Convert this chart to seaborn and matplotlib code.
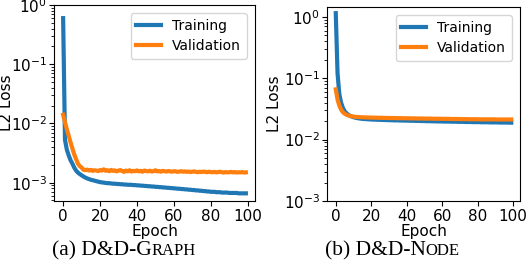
import pandas as pd
import seaborn as sns
import matplotlib.pyplot as plt

# Loss curves (epochs 0..99)
EPOCHS = list(range(100))

GRAPH_TRAIN = [
    0.6,
    0.0053, 0.0036, 0.0029, 0.0024, 0.0021, 0.0018, 0.0016, 0.00148, 0.00140, 0.00133,
    0.00127, 0.00122, 0.00118, 0.00115, 0.00112, 0.00110, 0.00108, 0.00106, 0.00104, 0.00102,
    0.00101, 0.00100, 0.00099, 0.00098, 0.00098, 0.00097, 0.00096, 0.00096, 0.00095, 0.00095,
    0.00094, 0.00094, 0.00093, 0.00093, 0.00092, 0.00092, 0.00092, 0.00091, 0.00091, 0.00090,
    0.00090, 0.00089, 0.00089, 0.00088, 0.00088, 0.00087, 0.00087, 0.00086, 0.00086, 0.00085,
    0.00085, 0.00084, 0.00084, 0.00083, 0.00083, 0.00082, 0.00082, 0.00081, 0.00081, 0.00080,
    0.00080, 0.00079, 0.00079, 0.00078, 0.00078, 0.00077, 0.00077, 0.00076, 0.00076, 0.00075,
    0.00075, 0.00074, 0.00074, 0.00073, 0.00073, 0.00072, 0.00072, 0.00071, 0.00071, 0.00070,
    0.00070, 0.00070, 0.00069, 0.00069, 0.00069, 0.00068, 0.00068, 0.00068, 0.00068, 0.00067,
    0.00067, 0.00067, 0.00067, 0.00067, 0.00066, 0.00066, 0.00066, 0.00066, 0.00066,
]
GRAPH_VAL = [
    0.0140,
    0.0105, 0.0080, 0.0062, 0.0048, 0.0038, 0.0030, 0.0025, 0.0021, 0.0019, 0.0018,
    0.00165, 0.00163, 0.00166, 0.00160, 0.00164, 0.00158, 0.00162, 0.00160, 0.00157, 0.00163,
    0.00160, 0.00168, 0.00159, 0.00162, 0.00156, 0.00164, 0.00158, 0.00161, 0.00155, 0.00160,
    0.00163, 0.00157, 0.00152, 0.00160, 0.00155, 0.00162, 0.00154, 0.00158, 0.00156, 0.00161,
    0.00155, 0.00158, 0.00153, 0.00160, 0.00157, 0.00155, 0.00159, 0.00154, 0.00156, 0.00162,
    0.00155, 0.00157, 0.00153, 0.00158, 0.00156, 0.00154, 0.00157, 0.00155, 0.00153, 0.00156,
    0.00155, 0.00152, 0.00154, 0.00156, 0.00153, 0.00155, 0.00152, 0.00154, 0.00151, 0.00153,
    0.00155, 0.00152, 0.00150, 0.00153, 0.00151, 0.00154, 0.00152, 0.00150, 0.00153, 0.00151,
    0.00150, 0.00152, 0.00149, 0.00151, 0.00153, 0.00150, 0.00148, 0.00151, 0.00149, 0.00150,
    0.00152, 0.00149, 0.00151, 0.00148, 0.00150, 0.00149, 0.00151, 0.00148, 0.00149,
]
NODE_TRAIN = [
    1.15,
    0.12, 0.055, 0.040, 0.033, 0.029, 0.027, 0.0255, 0.0245, 0.0238, 0.0232,
    0.0228, 0.0225, 0.0222, 0.0220, 0.0218, 0.0217, 0.0216, 0.0215, 0.0214, 0.0213,
    0.0212, 0.0212, 0.0211, 0.0211, 0.0210, 0.0210, 0.0209, 0.0209, 0.0208, 0.0208,
    0.0207, 0.0207, 0.0206, 0.0206, 0.0206, 0.0205, 0.0205, 0.0205, 0.0204, 0.0204,
    0.0204, 0.0203, 0.0203, 0.0203, 0.0202, 0.0202, 0.0202, 0.0201, 0.0201, 0.0201,
    0.0200, 0.0200, 0.0200, 0.0199, 0.0199, 0.0199, 0.0198, 0.0198, 0.0198, 0.0198,
    0.0197, 0.0197, 0.0197, 0.0197, 0.0196, 0.0196, 0.0196, 0.0196, 0.0195, 0.0195,
    0.0195, 0.0195, 0.0194, 0.0194, 0.0194, 0.0194, 0.0193, 0.0193, 0.0193, 0.0193,
    0.0193, 0.0192, 0.0192, 0.0192, 0.0192, 0.0192, 0.0191, 0.0191, 0.0191, 0.0191,
    0.0191, 0.0190, 0.0190, 0.0190, 0.0190, 0.0190, 0.0190, 0.0189, 0.0189,
]
NODE_VAL = [
    0.066,
    0.045, 0.036, 0.031, 0.028, 0.0265, 0.0255, 0.0248, 0.0243, 0.0240, 0.0237,
    0.0235, 0.0234, 0.0233, 0.0232, 0.0231, 0.0231, 0.0230, 0.0230, 0.0229, 0.0229,
    0.0228, 0.0228, 0.0228, 0.0227, 0.0227, 0.0227, 0.0226, 0.0226, 0.0226, 0.0225,
    0.0225, 0.0225, 0.0225, 0.0224, 0.0224, 0.0224, 0.0224, 0.0223, 0.0223, 0.0223,
    0.0223, 0.0222, 0.0222, 0.0222, 0.0222, 0.0221, 0.0221, 0.0221, 0.0221, 0.0220,
    0.0220, 0.0220, 0.0220, 0.0220, 0.0219, 0.0219, 0.0219, 0.0219, 0.0219, 0.0218,
    0.0218, 0.0218, 0.0218, 0.0218, 0.0217, 0.0217, 0.0217, 0.0217, 0.0217, 0.0216,
    0.0216, 0.0216, 0.0216, 0.0216, 0.0215, 0.0215, 0.0215, 0.0215, 0.0215, 0.0215,
    0.0214, 0.0214, 0.0214, 0.0214, 0.0214, 0.0214, 0.0214, 0.0214, 0.0214, 0.0214,
    0.0213, 0.0213, 0.0213, 0.0213, 0.0213, 0.0213, 0.0213, 0.0213, 0.0213,
]

# caption pieces: (text, size) -- small caps faked with smaller capitals
CAPTION_A = [("(a) D&D-G", 15.5), ("RAPH", 12)]
CAPTION_B = [("(b) D&D-N", 15.5), ("ODE", 12)]

plt.rcParams['font.size'] = 11

fig = plt.figure(figsize=(5.3, 2.66), dpi=100)
ax1 = fig.add_axes([54 / 530, 1 - 201 / 266, 201 / 530, 196 / 266])
ax2 = fig.add_axes([327 / 530, 1 - 201 / 266, 193 / 530, 194 / 266])


def draw_panel(ax, train, val, ylim, label_x):
    df = pd.DataFrame({
        'Epoch': EPOCHS * 2,
        'loss': train + val,
        'split': ['Training'] * len(train) + ['Validation'] * len(val),
    })
    sns.lineplot(data=df, x='Epoch', y='loss', hue='split', ax=ax,
                 palette=['#1f77b4', '#ff7f0e'], linewidth=3)
    ax.set_yscale('log')
    ax.set_ylim(*ylim)
    ax.set_xticks([0, 20, 40, 60, 80, 100])
    ax.tick_params(labelsize=11)
    ax.tick_params(axis='y', pad=1.5)
    ax.tick_params(axis='x', pad=2)
    ax.set_xlabel('Epoch', labelpad=0, fontsize=11)
    ax.set_ylabel('L2 Loss', fontsize=11)
    ax.yaxis.set_label_coords(label_x, 0.5)
    leg = ax.legend(loc='upper right', title=None, fontsize=10,
                    borderaxespad=0.6, handlelength=1.8, labelspacing=0.45)
    for line in leg.get_lines():
        line.set_linewidth(3)


draw_panel(ax1, GRAPH_TRAIN, GRAPH_VAL, (4.9e-4, 1.0), -0.2)
draw_panel(ax2, NODE_TRAIN, NODE_VAL, (1e-3, 1.45), -0.235)

fig.canvas.draw()
renderer = fig.canvas.get_renderer()


def caption(pieces, xc, y_base):
    # small-caps caption: pieces on one baseline, measured then centred
    texts = [fig.text(0, 1 - y_base / 266, s, fontsize=size,
                      family='Liberation Serif', ha='left', va='baseline')
             for s, size in pieces]
    widths = [t.get_window_extent(renderer).width for t in texts]
    x = xc - sum(widths) / 2
    for t, w in zip(texts, widths):
        t.set_x(x / 530)
        x += w


caption(CAPTION_A, 124, 255)
caption(CAPTION_B, 392, 255)

fig.savefig('out.png', dpi=100)
